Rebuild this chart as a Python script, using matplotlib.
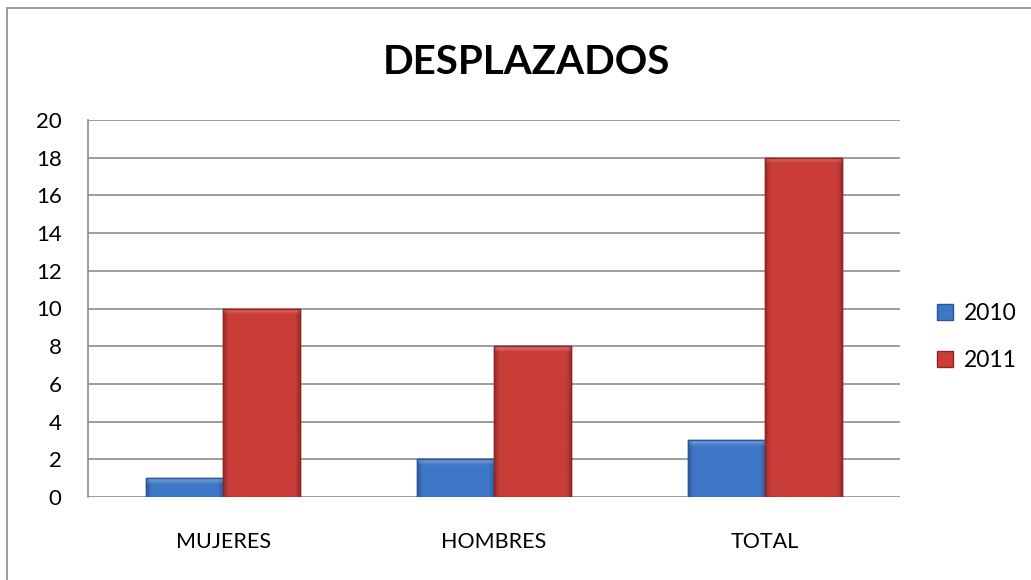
import matplotlib
matplotlib.use('Agg')
import matplotlib.pyplot as plt
import matplotlib.patches as patches
from matplotlib.colors import to_rgb
import numpy as np

categories = ['MUJERES', 'HOMBRES', 'TOTAL']
series_names = ['2010', '2011']
values_2010 = [1, 2, 3]
values_2011 = [10, 8, 18]
y_ticks = [0, 2, 4, 6, 8, 10, 12, 14, 16, 18, 20]

plt.rcParams['font.family'] = ['Lato', 'DejaVu Sans']

fig = plt.figure(figsize=(10.31, 5.8), dpi=100)
# outer chart border
fig.patches.append(patches.Rectangle((7 / 1031, -0.01), 1.02, 1 - 8 / 580 + 0.01,
                                     transform=fig.transFigure, fill=False,
                                     edgecolor='#8c8c8c', linewidth=1.2))
ax = fig.add_axes([88 / 1031, 1 - 497 / 580, (900 - 88) / 1031, (497 - 120) / 580])

x = np.arange(len(categories))
w = 0.285
colors = {'2010': ('#3f77c8', '#2a5596'), '2011': ('#c93c38', '#8e2522')}


def bevel(rect, face, edge):
    # fake excel-style bevel: dark sides, light top strip
    x0, y0 = rect.get_x(), rect.get_y()
    bw, bh = rect.get_width(), rect.get_height()
    bbox = ax.transData.transform([[x0, y0], [x0 + bw, y0 + bh]])
    px_w = max(int(bbox[1, 0] - bbox[0, 0]), 2)
    px_h = max(int(bbox[1, 1] - bbox[0, 1]), 2)
    uu, vv = np.meshgrid(np.arange(px_w) + 0.5, np.arange(px_h) + 0.5)
    du = np.minimum(uu, px_w - uu)   # distance to side, px
    dt = vv                           # distance to top, px (row 0 = top)
    edge_px = 6.0
    shade = np.ones_like(uu)
    shade -= 0.25 * np.clip(1 - du / edge_px, 0, 1)
    top = np.clip(1 - dt / edge_px, 0, 1)
    base = np.array(to_rgb(face))
    img = base[None, None, :] * shade[..., None]
    img = img * (1 - 0.35 * top[..., None]) + 0.35 * top[..., None]
    ax.imshow(np.clip(img, 0, 1), extent=(x0, x0 + bw, y0, y0 + bh), aspect='auto',
              zorder=3.5, interpolation='bilinear')
    ax.add_patch(patches.Rectangle((x0, y0), bw, bh, fill=False, edgecolor=edge,
                                   linewidth=1.0, zorder=4))


ax.set_xlim(-0.5, 2.5)
ax.set_ylim(0, 20)

for vals, name, off in [(values_2010, '2010', -w / 2), (values_2011, '2011', w / 2)]:
    face, edge = colors[name]
    bars = ax.bar(x + off, vals, width=w, color=face, edgecolor=edge, linewidth=1.0,
                  label=name, zorder=3)
    for b in bars:
        bevel(b, face, edge)

ax.set_xlim(-0.5, 2.5)
ax.set_ylim(0, 20)
ax.set_yticks(y_ticks)
ax.set_xticks(x)
ax.set_xticklabels(categories)
ax.tick_params(axis='y', labelsize=16, length=0, pad=19)
ax.tick_params(axis='x', labelsize=15.5, length=0, pad=25)
ax.grid(axis='y', color='#8c8c8c', linewidth=1.2, zorder=0)
ax.set_axisbelow(True)
for s in ['top', 'right', 'bottom']:
    ax.spines[s].set_visible(False)
ax.spines['left'].set_color('#8c8c8c')
ax.spines['left'].set_linewidth(1.2)

fig.text(526 / 1031, 1 - 62 / 580, 'DESPLAZADOS', ha='center', va='center',
         fontsize=29, fontweight='bold')

ax.legend(loc='center left', bbox_to_anchor=(1.045, 0.424), frameon=False,
          fontsize=16.5, handlelength=0.7, handleheight=0.7, labelspacing=1.15,
          handletextpad=0.5, borderpad=0, borderaxespad=0)

fig.savefig('out.png', dpi=100)
